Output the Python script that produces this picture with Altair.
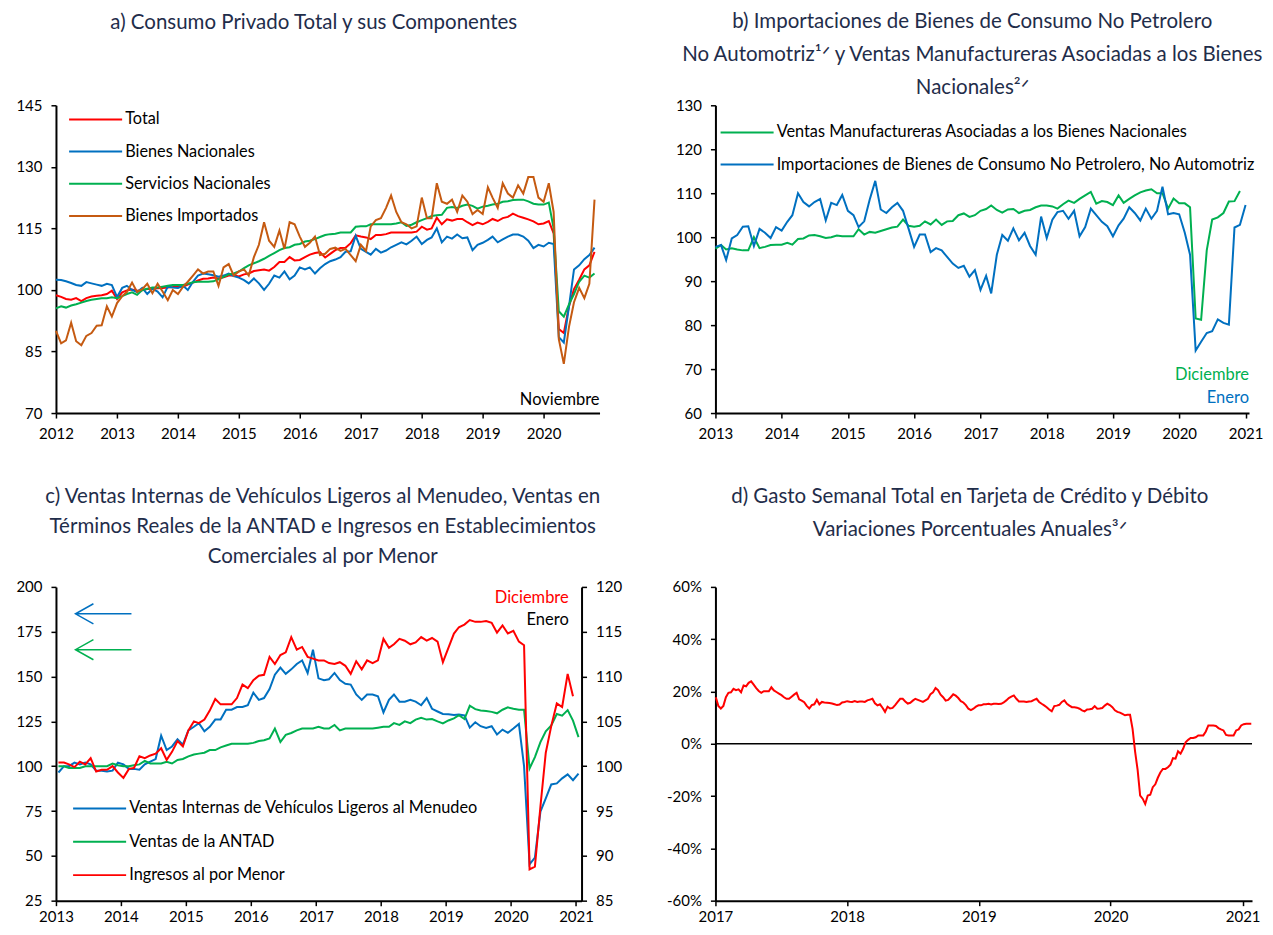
import altair as alt
import pandas as pd

FONT = "Lato"
TITLE_COLOR = "#1F2D4A"
RED, BLUE, GREEN, ORANGE = "#FF0000", "#0070C0", "#00B050", "#C55A11"

# ---------------- Panel a: monthly Jan 2012 - Nov 2020 ----------------
a_names = ["Total", "Bienes Nacionales", "Servicios Nacionales", "Bienes Importados"]
a_total = [
    98.7, 98.3, 97.8, 97.6, 98.0, 97.3, 98.0, 98.4, 98.6, 98.7, 99.0, 99.8,
    97.8, 99.4, 99.9, 100.1, 99.8, 99.9, 100.2, 100.3, 100.4, 100.5, 100.6, 100.7,
    100.9, 100.8, 101.3, 101.8, 102.3, 102.7, 102.8, 103.0, 102.8, 103.1, 103.5, 103.6,
    103.3, 103.8, 104.0, 104.6, 104.8, 105.0, 104.7, 105.6, 106.8, 106.8, 108.0, 107.2,
    107.3, 108.0, 108.6, 109.0, 109.2, 107.9, 108.8, 109.7, 110.2, 110.3, 111.4, 113.3,
    113.0, 112.8, 112.4, 113.4, 113.4, 113.6, 114.0, 114.0, 114.0, 114.0, 114.0, 114.2,
    115.4, 114.7, 115.0, 117.6, 116.0, 117.2, 116.9, 117.3, 117.3, 116.5, 115.8, 116.4,
    116.0, 116.6, 117.3, 116.8, 117.5, 117.8, 118.6, 118.0, 117.6, 117.2, 116.7, 116.0,
    116.2, 116.8, 113.8, 90.5, 89.5, 96.0, 100.2, 102.5, 105.0, 106.0, 109.3,
]
a_bienes_nac = [
    102.5, 102.4, 102.1, 101.7, 101.2, 101.0, 101.9, 101.6, 101.3, 101.0, 101.5, 101.2,
    98.3, 100.5, 101.0, 100.0, 99.5, 100.5, 99.0, 100.3, 99.6, 98.2, 100.8, 100.6,
    100.5, 101.0, 100.0, 102.0, 103.5, 104.0, 103.8, 103.6, 103.2, 103.5, 104.0, 103.4,
    103.0, 102.4, 101.6, 102.8, 101.6, 100.0, 101.5, 103.5, 103.0, 104.5, 102.6, 103.5,
    105.5, 105.0, 105.5, 104.0, 105.3, 106.3, 107.0, 107.4, 108.0, 109.3, 109.4, 113.2,
    110.0, 109.3, 108.6, 110.0, 109.1, 109.6, 110.4, 111.0, 111.6, 111.1, 112.0, 113.0,
    111.2, 112.2, 112.8, 115.0, 111.6, 113.0, 112.5, 113.5, 112.6, 112.8, 109.7, 111.0,
    111.5, 112.2, 113.0, 111.6, 112.3, 113.0, 113.5, 113.5, 113.0, 112.0, 110.2, 111.0,
    110.6, 111.5, 111.2, 88.5, 87.2, 96.0, 105.0, 106.0, 107.5, 108.5, 110.3,
]
a_servicios = [
    95.5, 96.0, 95.7, 96.2, 96.5, 96.9, 97.3, 97.6, 97.8, 98.0, 98.0, 98.2,
    98.0, 98.5, 99.0, 99.4, 98.8, 100.0, 100.3, 100.6, 100.6, 100.8, 101.0, 101.2,
    101.2, 101.2, 101.5, 101.9, 102.0, 102.0, 102.0, 102.1, 102.6, 103.2, 103.8, 104.0,
    104.5, 105.3, 106.0, 106.5, 107.0, 107.6, 108.3, 109.0, 109.7, 110.2, 110.4, 111.0,
    111.2, 111.8, 112.0, 112.4, 112.9, 113.4, 113.6, 113.7, 114.0, 114.0, 114.0, 115.4,
    115.5, 115.5, 116.0, 116.0, 116.0, 116.0, 116.0, 116.2, 116.5, 115.6, 115.9, 116.5,
    117.0, 117.5, 118.0, 118.2, 118.3, 120.0, 120.2, 120.0, 120.5, 120.8, 120.5, 119.8,
    120.3, 120.5, 120.8, 121.0, 121.5, 121.6, 121.9, 122.0, 122.0, 121.6, 121.0, 120.8,
    120.8, 121.3, 115.0, 94.8, 93.5, 96.5, 99.0, 102.0, 103.5, 103.0, 104.0,
]
a_importados = [
    90.0, 87.0, 87.7, 92.0, 87.5, 86.5, 88.8, 89.5, 91.3, 91.4, 96.0, 93.5,
    96.8, 98.5, 99.5, 101.8, 99.5, 100.2, 101.5, 99.2, 101.5, 99.6, 97.5, 100.0,
    99.0, 100.8, 102.0, 103.5, 105.0, 104.0, 104.5, 104.5, 101.0, 105.5, 106.3, 103.5,
    104.5, 105.0, 103.5, 108.0, 111.0, 116.5, 112.0, 110.5, 114.5, 110.0, 116.5, 116.0,
    113.0, 110.5, 111.5, 113.0, 108.5, 108.8, 110.0, 110.3, 109.5, 110.0, 108.5, 107.0,
    111.0, 109.5, 115.5, 117.0, 117.5, 120.0, 123.0, 119.0, 116.5, 116.0, 115.0, 115.5,
    122.5, 117.5, 117.5, 126.0, 121.5, 121.0, 122.0, 119.0, 123.0, 121.5, 118.5, 119.5,
    118.5, 125.0, 122.5, 120.0, 126.0, 123.5, 122.5, 125.5, 123.5, 127.5, 127.5, 122.5,
    121.5, 126.0, 119.0, 88.0, 82.0, 91.0, 97.0, 100.5, 98.0, 101.5, 122.0,
]

# ---------------- Panel b: monthly Jan 2013 - Dec 2020 / Jan 2021 ----------------
b_names = ["Ventas Manufactureras Asociadas a los Bienes Nacionales",
           "Importaciones de Bienes de Consumo No Petrolero, No Automotriz"]
b_ventas = [
    97.4, 98.2, 97.2, 97.5, 97.2, 97.0, 97.0, 100.0, 97.5, 97.8, 98.2, 98.3,
    98.3, 98.7, 98.3, 99.6, 99.7, 100.4, 100.5, 100.2, 99.8, 100.0, 100.4, 100.2,
    100.2, 100.2, 101.8, 100.6, 101.2, 101.0, 101.4, 101.8, 102.2, 102.4, 104.0, 102.6,
    102.4, 102.6, 103.6, 102.9, 104.0, 102.8, 103.6, 103.7, 105.0, 105.4, 104.6, 105.0,
    106.0, 106.4, 107.2, 106.2, 105.6, 106.3, 106.4, 105.5, 106.0, 106.2, 106.8, 107.2,
    107.2, 107.0, 106.5, 107.5, 108.3, 107.8, 108.7, 109.5, 110.3, 107.6, 108.2, 108.0,
    107.3, 109.5, 107.8, 108.7, 109.5, 110.2, 110.6, 110.9, 110.0, 110.0, 106.5, 108.8,
    107.7, 107.7, 106.8, 81.5, 81.2, 97.0, 104.0, 104.5, 105.5, 108.1, 108.2, 110.5,
]
b_importaciones = [
    97.8, 98.2, 94.8, 99.7, 100.5, 102.4, 102.5, 98.0, 101.9, 101.0, 99.8, 102.3,
    101.5, 103.5, 105.0, 110.0, 108.0, 107.0, 108.0, 108.7, 103.8, 107.8, 107.3, 109.6,
    106.0, 105.0, 102.3, 103.6, 108.5, 112.8, 106.3, 105.5, 106.8, 107.8, 106.0, 102.0,
    97.8, 100.6, 100.6, 96.6, 97.5, 97.0, 95.5, 94.0, 93.0, 93.5, 91.0, 92.5,
    88.0, 91.2, 87.2, 96.0, 100.5, 99.2, 102.0, 99.3, 101.0, 98.0, 96.0, 104.7,
    99.8, 104.0, 105.7, 106.0, 104.2, 106.0, 100.2, 102.3, 106.5, 105.0, 103.5, 102.5,
    100.2, 102.7, 104.2, 106.8, 105.5, 103.8, 106.5, 104.2, 106.0, 111.5, 105.2, 105.5,
    105.2, 101.0, 96.0, 74.2, 76.2, 78.2, 78.6, 81.3, 80.5, 80.1, 102.2, 102.8,
    107.3,
]

# ---------------- Panel c: monthly Jan 2013 - Jan 2021 ----------------
c_names = ["Ventas Internas de Vehículos Ligeros al Menudeo", "Ventas de la ANTAD",
           "Ingresos al por Menor"]
c_vehiculos = [
    96.5, 100.0, 100.0, 102.0, 101.0, 102.0, 101.0, 97.5, 97.5, 97.0, 97.5, 102.0,
    101.0, 98.5, 98.5, 98.0, 101.0, 102.5, 104.0, 117.0, 109.0, 111.0, 115.0, 112.0,
    120.0, 122.0, 124.0, 119.5, 122.0, 126.0, 126.0, 131.5, 131.5, 133.0, 133.0, 134.0,
    141.0, 137.0, 138.0, 143.0, 151.0, 155.0, 151.5, 154.0, 157.0, 159.0, 152.0, 165.0,
    149.0, 148.0, 148.5, 152.0, 148.0, 146.0, 145.5, 140.0, 137.0, 140.0, 140.0, 139.0,
    130.0, 137.0, 140.0, 136.0, 136.0, 137.0, 136.0, 134.0, 138.0, 132.0, 130.5, 129.1,
    129.0, 128.6, 128.8, 128.3, 121.5, 124.5, 122.3, 121.3, 122.3, 117.7, 120.4, 118.6,
    121.0, 123.6, 100.0, 45.3, 49.0, 74.7, 82.0, 89.8, 90.4, 93.2, 95.4, 92.2,
    95.9,
]
c_antad = [
    100.0, 100.0, 99.0, 99.0, 99.0, 100.0, 100.0, 100.0, 100.0, 100.0, 101.5, 100.5,
    100.0, 100.0, 100.5, 101.0, 103.0, 101.5, 101.5, 101.5, 102.5, 101.5, 103.5, 104.0,
    105.5, 106.5, 107.0, 107.5, 109.0, 109.0, 110.5, 111.5, 112.5, 112.5, 112.5, 112.5,
    113.0, 114.0, 114.5, 115.5, 121.0, 113.5, 117.5, 118.5, 120.0, 121.0, 121.0, 121.0,
    122.0, 121.0, 121.0, 123.0, 120.0, 121.0, 121.0, 121.0, 121.0, 121.0, 121.0, 121.5,
    122.0, 122.0, 124.0, 123.0, 125.0, 124.0, 126.0, 127.0, 126.0, 126.3, 125.0, 123.9,
    125.5, 126.7, 128.5, 126.3, 133.7, 131.8, 131.1, 130.8, 130.3, 129.5, 131.5, 132.8,
    132.0, 131.5, 131.5, 98.7, 105.1, 113.4, 119.5, 122.8, 129.1, 128.2, 131.3, 125.4,
    116.2,
]
c_ingresos = [  # right axis, Jan 2013 - Dec 2020
    100.4, 100.4, 100.2, 99.9, 100.5, 100.2, 100.9, 99.4, 99.6, 99.6, 100.0, 99.3,
    98.7, 99.7, 99.8, 101.1, 100.9, 101.2, 101.4, 102.0, 100.7, 101.6, 102.8, 102.2,
    104.0, 105.0, 104.8, 105.2, 106.2, 107.5, 106.9, 106.9, 106.9, 107.6, 109.1, 108.7,
    109.6, 110.1, 110.2, 112.2, 111.4, 112.4, 112.7, 114.4, 113.0, 113.3, 112.2, 112.0,
    111.8, 111.8, 111.5, 111.4, 111.6, 111.2, 110.3, 111.7, 110.8, 111.8, 111.5, 111.8,
    114.2, 113.2, 113.6, 114.2, 114.0, 113.6, 113.8, 114.4, 114.0, 114.3, 113.9, 111.6,
    113.2, 114.8, 115.5, 115.8, 116.3, 116.1, 116.1, 116.2, 116.0, 114.9, 115.7, 114.8,
    115.1, 113.9, 113.5, 88.5, 88.8, 95.5, 101.5, 104.5, 107.0, 106.6, 110.3, 107.8,
]

# ---------------- Panel d: weekly, from first week of 2017 ----------------
d_gasto = [
    17.8, 14.5, 13.5, 14.5, 17.8, 19.5, 19.7, 21.0, 20.5, 20.8,
    19.7, 22.3, 22.0, 23.3, 23.9, 22.6, 21.3, 20.2, 19.5, 20.1,
    20.1, 20.1, 21.6, 20.4, 19.8, 19.2, 18.6, 17.8, 17.2, 17.2,
    18.0, 18.8, 19.5, 17.0, 16.5, 15.9, 14.5, 13.5, 14.8, 15.1,
    16.8, 15.1, 16.0, 15.8, 15.7, 15.6, 15.4, 15.1, 14.8, 15.0,
    15.8, 16.0, 16.3, 16.1, 16.0, 16.3, 16.0, 16.2, 16.2, 16.0,
    16.6, 16.9, 17.2, 15.5, 14.7, 15.1, 13.8, 12.2, 14.2, 13.5,
    13.7, 14.8, 16.0, 17.2, 17.2, 16.2, 15.4, 15.7, 16.5, 17.2,
    16.8, 16.4, 16.0, 16.6, 17.2, 19.0, 19.7, 21.3, 20.5, 18.8,
    17.8, 16.5, 16.8, 17.8, 18.9, 18.4, 17.5, 16.3, 15.8, 14.8,
    13.4, 12.9, 13.4, 14.2, 14.7, 14.7, 15.1, 15.1, 15.3, 15.0,
    15.3, 15.3, 15.2, 15.3, 15.8, 16.6, 17.5, 18.0, 18.5, 17.2,
    16.2, 16.2, 16.2, 16.0, 16.2, 16.3, 16.8, 17.2, 16.0, 15.3,
    14.7, 14.0, 13.1, 12.4, 14.4, 14.6, 14.9, 16.0, 16.6, 15.3,
    14.6, 14.0, 14.0, 13.8, 13.4, 12.8, 12.4, 13.1, 13.2, 13.4,
    14.4, 13.4, 13.5, 13.7, 14.6, 15.3, 14.8, 14.0, 12.8, 12.2,
    11.9, 11.4, 10.9, 11.1, 11.1, 5.7, -3.0, -10.0, -19.8, -21.0,
    -23.0, -19.8, -19.5, -16.6, -15.5, -13.0, -11.0, -9.6, -9.6, -9.0,
    -8.0, -5.5, -5.7, -2.9, -3.8, -1.9, 0.6, 1.5, 2.2, 2.2,
    2.5, 3.2, 3.2, 3.2, 4.7, 7.0, 7.0, 7.0, 6.8, 6.0,
    5.5, 5.1, 3.4, 3.2, 3.2, 3.2, 5.1, 5.5, 7.0, 7.5,
    7.7, 7.7, 7.7,
]

assert len(a_total) == len(a_bienes_nac) == len(a_servicios) == len(a_importados) == 107
assert len(b_ventas) == 96 and len(b_importaciones) == 97
assert len(c_vehiculos) == 97 and len(c_antad) == 97 and len(c_ingresos) == 96


def long_df(start, names, series, day_offset=0):
    frames = []
    for name, vals in zip(names, series):
        frames.append(pd.DataFrame({
            "fecha": pd.date_range(start, periods=len(vals), freq="MS")
            + pd.Timedelta(days=day_offset),
            "serie": name,
            "valor": vals,
        }))
    return pd.concat(frames, ignore_index=True)


def dt(y, m=1, d=1):
    return alt.DateTime(year=y, month=m, date=d)


def x_enc(start, end, first_year, last_year, pad=8):
    return alt.X(
        "fecha:T",
        scale=alt.Scale(domain=[start, end]),
        axis=alt.Axis(values=[dt(y) for y in range(first_year, last_year + 1)],
                      format="%Y", title=None, labelAlign="center", labelPadding=pad,
                      labelOverlap=False, labelFlush=False),
    )


def y_enc(lo, hi, step, orient="left", expr=None):
    kw = dict(values=list(range(lo, hi + 1, step)), title=None, orient=orient,
              labelPadding=9)
    if expr:
        kw["labelExpr"] = expr
    return alt.Y("valor:Q", scale=alt.Scale(domain=[lo, hi], nice=False, zero=False),
                 axis=alt.Axis(**kw))


# legend swatch: a horizontal stroke 8 units long from the symbol centre (53 px)
SWATCH = "M0,0H8"


def legend(x, y, rowpad):
    return alt.Legend(title=None, orient="none", legendX=x, legendY=y,
                      symbolType=SWATCH, symbolSize=176, symbolStrokeWidth=2,
                      labelFont=FONT, labelFontSize=16.3, labelColor="black",
                      labelLimit=800, rowPadding=rowpad, labelOffset=48, padding=0,
                      direction="vertical")


def title(lines, offset, dx, line_height=33):
    return alt.TitleParams(text=lines, font=FONT, fontSize=20.5, fontWeight="normal",
                           color=TITLE_COLOR, anchor="middle", frame="group",
                           offset=offset, dx=dx, lineHeight=line_height)


def note(date, value, text, color, align="right"):
    df = pd.DataFrame({"fecha": [pd.Timestamp(date)], "valor": [value], "texto": [text]})
    return alt.Chart(df).mark_text(align=align, baseline="middle", font=FONT,
                                   fontSize=16.5, color=color)


# ---------------- Panel a ----------------
df_a = long_df("2012-01-01", a_names, [a_total, a_bienes_nac, a_servicios, a_importados])
xa = x_enc(dt(2012), dt(2020, 12, 1), 2012, 2020)
ya = y_enc(70, 145, 15)
lines_a = alt.Chart(df_a).mark_line(strokeWidth=2).encode(
    x=xa, y=ya,
    color=alt.Color("serie:N", scale=alt.Scale(domain=a_names, range=[RED, BLUE, GREEN, ORANGE]),
                    legend=legend(5, 6, 15.2)),
)
note_a = note("2020-12-01", 73.2, "Noviembre", "black").encode(x=xa, y=ya, text="texto:N")
panel_a = alt.layer(lines_a, note_a).properties(
    width=544, height=308,
    title=title(["a) Consumo Privado Total y sus Componentes"], 65, -14))

# ---------------- Panel b ----------------
df_b = long_df("2013-01-01", b_names, [b_ventas, b_importaciones])
xb = x_enc(dt(2013), dt(2021, 1, 20), 2013, 2021)
yb = y_enc(60, 130, 10)
lines_b = alt.Chart(df_b).mark_line(strokeWidth=2).encode(
    x=xb, y=yb,
    color=alt.Color("serie:N", scale=alt.Scale(domain=b_names, range=[GREEN, BLUE]),
                    legend=legend(-3, 19, 15.2)),
)
note_b1 = note("2021-01-20", 68.6, "Diciembre", GREEN).encode(x=xb, y=yb, text="texto:N")
note_b2 = note("2021-01-20", 63.4, "Enero", BLUE).encode(x=xb, y=yb, text="texto:N")
panel_b = alt.layer(lines_b, note_b1, note_b2).properties(
    width=534, height=308,
    title=title(["b) Importaciones de Bienes de Consumo No Petrolero",
                 "No Automotriz¹ᐟ y Ventas Manufactureras Asociadas a los Bienes",
                 "Nacionales²ᐟ"], 0, -10))

# ---------------- Panel c ----------------
df_c_left = long_df("2013-01-01", c_names[:2], [c_vehiculos, c_antad], day_offset=14)
df_c_right = long_df("2013-01-01", c_names[2:], [c_ingresos], day_offset=14)
xc = x_enc(dt(2013), dt(2021, 2, 1), 2013, 2021, pad=4)
yc_left = y_enc(25, 200, 25)
yc_right = y_enc(85, 120, 5, orient="right")
color_c = alt.Color("serie:N", scale=alt.Scale(domain=c_names, range=[BLUE, GREEN, RED]),
                    legend=legend(9, 213.5, 16.4))
lines_c_left = alt.Chart(df_c_left).mark_line(strokeWidth=2).encode(x=xc, y=yc_left, color=color_c)
lines_c_right = alt.Chart(df_c_right).mark_line(strokeWidth=2).encode(x=xc, y=yc_right, color=color_c)

ARROW = "M1,0L-1,0M-0.36,-0.36L-1,0L-0.36,0.36"
arrow_rows = pd.DataFrame({"fecha": [pd.Timestamp("2013-09-25")], "valor": [185.0]})
arrow_rows2 = pd.DataFrame({"fecha": [pd.Timestamp("2013-09-25")], "valor": [165.0]})
arrow_blue = alt.Chart(arrow_rows).mark_point(shape=ARROW, size=3136, filled=False, strokeWidth=1.5,
                                              color=BLUE, opacity=1).encode(x=xc, y=yc_left)
arrow_green = alt.Chart(arrow_rows2).mark_point(shape=ARROW, size=3136, filled=False, strokeWidth=1.5,
                                                color=GREEN, opacity=1).encode(x=xc, y=yc_left)
note_c1 = note("2020-11-21", 193.9, "Diciembre", RED).encode(x=xc, y=yc_left, text="texto:N")
note_c2 = note("2020-11-21", 181.7, "Enero", "black").encode(x=xc, y=yc_left, text="texto:N")
left_c = alt.layer(lines_c_left, arrow_blue, arrow_green, note_c1, note_c2)
panel_c = alt.layer(left_c, lines_c_right).resolve_scale(y="independent").properties(
    width=526, height=314,
    title=title(["c) Ventas Internas de Vehículos Ligeros al Menudeo, Ventas en",
                 "Términos Reales de la ANTAD e Ingresos en Establecimientos",
                 "Comerciales al por Menor"], 12, 4, line_height=30))

# ---------------- Panel d ----------------
df_d = pd.DataFrame({"fecha": pd.date_range("2017-01-02", periods=len(d_gasto), freq="7D"),
                     "valor": d_gasto})
xd = x_enc(dt(2017), dt(2021, 1, 27), 2017, 2021, pad=4)
yd = y_enc(-60, 60, 20, expr="(datum.value < 0 ? '-' : '') + abs(datum.value) + '%'")
zero_d = alt.Chart(pd.DataFrame({"valor": [0]})).mark_rule(color="black", strokeWidth=1.5).encode(y=yd)
line_d = alt.Chart(df_d).mark_line(strokeWidth=2, color=RED).encode(x=xd, y=yd)
panel_d = alt.layer(zero_d, line_d).properties(
    width=537, height=314,
    title=title(["d) Gasto Semanal Total en Tarjeta de Crédito y Débito",
                 "Variaciones Porcentuales Anuales³ᐟ"], 39, -14))

chart = alt.concat(panel_a, panel_b, panel_c, panel_d, columns=2,
                   spacing={"row": 174, "column": 116}, bounds="flush")
chart = chart.resolve_scale(x="independent", y="independent", color="independent")
chart = chart.resolve_legend(color="independent").resolve_axis(x="independent", y="independent")
chart = chart.properties(padding={"left": 7, "top": 3, "right": 0, "bottom": 0})
chart = chart.configure_view(stroke=None).configure_axis(
    grid=False, domainColor="black", domainWidth=2, tickColor="black", tickWidth=1.5,
    tickSize=5, labelFont=FONT, labelFontSize=15, labelColor="black",
).configure_text(font=FONT)

chart.save("out.html", embed_options={"renderer": "svg", "actions": False})
